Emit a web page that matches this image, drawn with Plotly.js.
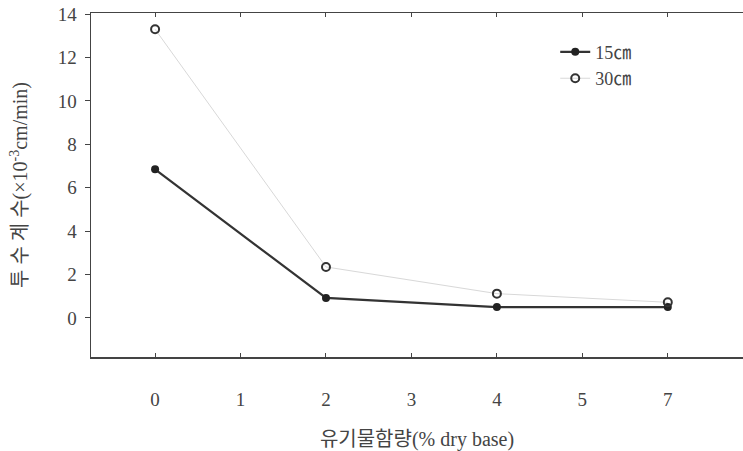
<!DOCTYPE html>
<html><head><meta charset="utf-8">
<script src="https://cdn.plot.ly/plotly-3.0.1.min.js"></script>
<style>html,body{margin:0;padding:0;background:#fff;}</style>
</head><body>
<div id="chart" style="width:743px;height:451px;"></div>
<script>
const xCategories = ['0','1','2','3','4','5','7'];
const xPoints = ['0','2','4','7'];
const series15 = [6.85, 0.92, 0.5, 0.5];
const series30 = [13.3, 2.35, 1.12, 0.72];
const seriesNames = ['15㎝','30㎝'];
const yTicks = [0,2,4,6,8,10,12,14];

const fontFam = 'Liberation Serif, "Noto Sans CJK KR", serif';
const traces = [
  {x: xPoints, y: series15, name: seriesNames[0], type:'scatter', mode:'lines+markers',
   line:{color:'#333', width:2.2}, marker:{color:'#222', size:8, symbol:'circle'}},
  {x: xPoints, y: series30, name: seriesNames[1], type:'scatter', mode:'lines+markers',
   line:{color:'#d8d8d8', width:1}, marker:{color:'#333', size:8, symbol:'circle-open', line:{color:'#333', width:2}}}
];
const layout = {
  width:743, height:451,
  margin:{l:91, r:0, t:13, b:94},
  paper_bgcolor:'#fff', plot_bgcolor:'#fff',
  font:{family:fontFam, color:'#444', size:19},
  showlegend:true,
  legend:{x:0.712, y:0.94, xanchor:'left', yanchor:'top', bgcolor:'rgba(0,0,0,0)', font:{size:18, color:'#444'}, tracegroupgap:0},
  xaxis:{type:'category', categoryarray:xCategories, categoryorder:'array', tickvals:xCategories,
    range:[-0.75, 6.88], showgrid:false, zeroline:false, showline:true, linecolor:'#444', linewidth:1.5,
    mirror:'allticks', ticks:'inside', ticklen:4, tickcolor:'#444', tickfont:{size:19},
    ticklabelstandoff:25, automargin:false,
    title:{text:'유기물함량(% dry base)', font:{size:20}, standoff:26}},
  yaxis:{range:[-1.8, 14.05], tickvals:yTicks, showgrid:false, zeroline:false, showline:true,
    linecolor:'#444', linewidth:1.5, ticks:'outside', ticklen:5, tickcolor:'#444', tickfont:{size:19},
    ticklabelstandoff:4, automargin:false,
    title:{text:'투 수 계 수(×10<sup>-3</sup>cm/min)', font:{size:20}, standoff:24}}
};
Plotly.newPlot('chart', traces, layout, {displayModeBar:false, staticPlot:true});
</script>
</body></html>
